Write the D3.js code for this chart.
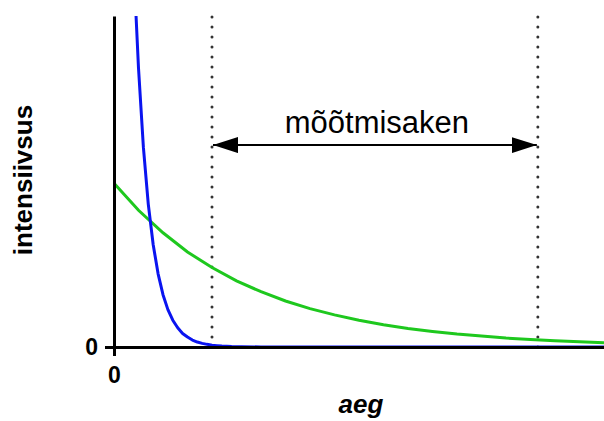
<!DOCTYPE html>
<html>
<head>
<meta charset="utf-8">
<script src="https://cdn.jsdelivr.net/npm/d3@7"></script>
<style>
  body { margin: 0; background: white; }
  svg { display: block; font-family: "Liberation Sans", Arial, sans-serif; }
</style>
</head>
<body>
<svg id="chart" width="604" height="421"></svg>
<script>
// Values (arbitrary units, x 0..100, y 0..100).
const blueX = [4.5, 5, 6, 7, 8, 9, 10, 11, 12, 13, 14, 15, 16, 17, 18, 19, 20, 21, 22, 24, 26, 30, 40, 60, 80, 100];
const blueY = [100, 84.3, 60.3, 43.1, 30.9, 22.1, 15.8, 11.3, 8.1, 5.8, 4.1, 3.0, 2.1, 1.5, 1.1, 0.8, 0.55, 0.4, 0.28, 0.14, 0.07, 0.02, 0, 0, 0, 0];
const greenX = [0, 5, 10, 15, 20, 25, 30, 35, 40, 45, 50, 55, 60, 65, 70, 75, 80, 85, 90, 95, 100];
const greenY = [49.5, 41.3, 34.5, 28.7, 24.0, 20.0, 16.7, 13.9, 11.6, 9.7, 8.1, 6.7, 5.6, 4.7, 3.9, 3.3, 2.7, 2.3, 1.9, 1.6, 1.3];
const windowEdges = [20, 86.5];   // dotted lines
const arrowLevel = 61;            // height of the double arrow
const windowLabel = "mõõtmisaken";
const xTicks = [0];
const yTicks = [0];
const xTitle = "aeg";
const yTitle = "intensiivsus";

const svg = d3.select("#chart");

const x = d3.scaleLinear().domain([0, 100]).range([114, 604]);
const y = d3.scaleLinear().domain([0, 100]).range([347, 16]);

// Markers for the arrow heads.
const defs = svg.append("defs");
defs.append("marker")
  .attr("id", "head")
  .attr("viewBox", "0 0 25 16")
  .attr("refX", 25).attr("refY", 8)
  .attr("markerUnits", "userSpaceOnUse")
  .attr("markerWidth", 25).attr("markerHeight", 16)
  .attr("orient", "auto-start-reverse")
  .append("path")
  .attr("d", "M0,0L25,8L0,16Z")
  .attr("fill", "black");

// Dotted window edges.
svg.append("g")
  .selectAll("line")
  .data(windowEdges)
  .join("line")
    .attr("x1", d => x(d)).attr("x2", d => x(d))
    .attr("y1", y(0)).attr("y2", y(100))
    .attr("stroke", "#333")
    .attr("stroke-width", 3)
    .attr("stroke-linecap", "round")
    .attr("stroke-dasharray", "0.1 9.9");

// Curves.
const line = d3.line().x(d => x(d[0])).y(d => y(d[1]));

svg.append("path")
  .datum(d3.zip(greenX, greenY))
  .attr("d", line)
  .attr("fill", "none")
  .attr("stroke", "#1ec81e")
  .attr("stroke-width", 3);

svg.append("path")
  .datum(d3.zip(blueX, blueY))
  .attr("d", line)
  .attr("fill", "none")
  .attr("stroke", "#0a14f0")
  .attr("stroke-width", 3)
  .attr("stroke-linejoin", "round");

// Axes.
const xAxis = d3.axisBottom(x).tickValues(xTicks).tickSize(9).tickSizeOuter(0).tickPadding(11).tickFormat(d3.format("d"));
const yAxis = d3.axisLeft(y).tickValues(yTicks).tickSize(9).tickSizeOuter(0).tickPadding(7).tickFormat(d3.format("d"));

svg.append("g")
  .attr("transform", `translate(0,${y(0)})`)
  .call(xAxis)
  .attr("font-size", 23)
  .attr("font-weight", "bold")
  .attr("font-family", "Liberation Sans, Arial, sans-serif");

svg.append("g")
  .attr("transform", `translate(${x(0)},0)`)
  .call(yAxis)
  .attr("font-size", 23)
  .attr("font-weight", "bold")
  .attr("font-family", "Liberation Sans, Arial, sans-serif");

svg.selectAll(".domain, .tick line")
  .attr("stroke", "black")
  .attr("stroke-width", 3);

svg.selectAll(".tick text")
  .attr("fill", "black");

// Double arrow for the measuring window.
svg.append("line")
  .attr("x1", x(windowEdges[0]) + 1).attr("x2", x(windowEdges[1]) - 1)
  .attr("y1", y(arrowLevel)).attr("y2", y(arrowLevel))
  .attr("stroke", "black")
  .attr("stroke-width", 2)
  .attr("marker-start", "url(#head)")
  .attr("marker-end", "url(#head)");

svg.append("text")
  .attr("x", (x(windowEdges[0]) + x(windowEdges[1])) / 2 + 2)
  .attr("y", 133)
  .attr("text-anchor", "middle")
  .style("font-size", "31px")
  .text(windowLabel);

// Axis titles.
svg.append("text")
  .attr("transform", "translate(32,180) rotate(-90)")
  .attr("text-anchor", "middle")
  .style("font-size", "26px")
  .style("font-weight", "bold")
  .text(yTitle);

// kept just inside the bottom edge so the descender is not clipped
svg.append("text")
  .attr("x", 361)
  .attr("y", 413)
  .attr("text-anchor", "middle")
  .style("font-size", "26px")
  .style("font-weight", "bold")
  .style("font-style", "italic")
  .text(xTitle);
</script>
</body>
</html>
